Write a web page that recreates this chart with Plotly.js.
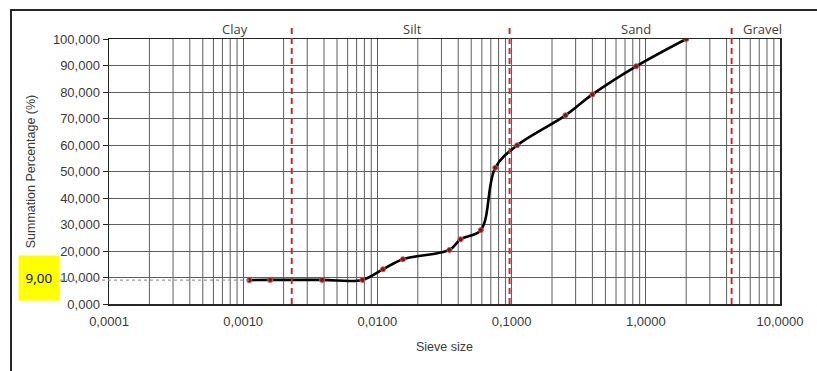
<!DOCTYPE html>
<html>
<head>
<meta charset="utf-8">
<script src="https://cdn.plot.ly/plotly-3.0.1.min.js"></script>
<style>
  html, body { margin: 0; padding: 0; background: #fff; overflow: hidden; }
  #frame { position: absolute; left: 10px; top: 9px; width: 900px; height: 500px;
           border-left: 2px solid #262626; border-top: 2px solid #262626; background: #fff; }
  #chart { position: absolute; left: 0; top: 0; width: 817px; height: 371px; }
</style>
</head>
<body>
<div id="frame"></div>
<div id="chart"></div>
<script>
// Grain size distribution (sieve + hydrometer)
const sieveSize = [0.00111, 0.00159, 0.00387, 0.00773, 0.0110, 0.0155, 0.0344, 0.0416,
                   0.059, 0.0755, 0.110, 0.252, 0.40, 0.847, 2.00];
const passing   = [9.0, 9.1, 9.1, 9.1, 13.1, 16.9, 20.4, 24.4,
                   27.9, 51.4, 59.9, 71.2, 79.1, 89.7, 100.0];

const xTickVals = [0.0001, 0.001, 0.01, 0.1, 1, 10];
const xTickText = ['0,0001', '0,0010', '0,0100', '0,1000', '1,0000', '10,0000'];
const yTickVals = [0, 10, 20, 30, 40, 50, 60, 70, 80, 90, 100];
const yTickText = ['0,000', '10,000', '20,000', '30,000', '40,000', '50,000',
                   '60,000', '70,000', '80,000', '90,000', '100,000'];

// Soil class boundaries (mm) and class names
const zoneBounds = [0.0023, 0.0966, 4.36];
const zoneNames  = ['Clay', 'Silt', 'Sand', 'Gravel'];
const zoneLabelX = [0.1885, 0.453, 0.786, 0.974];   // paper x of each class name

// Highlighted passing level
const markLevel = 9.0;

const logMin = -4, logMax = 1;
const gridColor = '#5e5e5e';
const tickFont = { family: 'Liberation Sans, Arial, sans-serif', size: 13, color: '#3a3a3a' };
const labelFont = { family: 'Open Sans, sans-serif', size: 13, color: '#404040' };

const shapes = [];

// minor log gridlines (2..9 within each decade)
for (let k = logMin; k < logMax; k++) {
  for (let d = 2; d <= 9; d++) {
    shapes.push({
      type: 'line', layer: 'below', xref: 'x', yref: 'paper',
      x0: d * Math.pow(10, k), x1: d * Math.pow(10, k), y0: 0, y1: 1,
      line: { color: gridColor, width: 1 }
    });
  }
}

// class boundaries
zoneBounds.forEach(b => {
  shapes.push({
    type: 'line', layer: 'above', xref: 'x', yref: 'paper',
    x0: b, x1: b, y0: 0, y1: 1.053,
    line: { color: '#d0282e', width: 2, dash: '6px,4px' }
  });
});

// dashed reference from the level box to the first reading
const boxRight = -0.073;
const firstX = (Math.log10(sieveSize[0]) - logMin) / (logMax - logMin);
shapes.push({
  type: 'line', layer: 'above', xref: 'paper', yref: 'y',
  x0: boxRight, x1: firstX, y0: markLevel, y1: markLevel,
  line: { color: '#9a9a9a', width: 1.2, dash: '3px,3px' }
});

const annotations = zoneNames.map((name, i) => ({
  text: name, xref: 'paper', yref: 'paper', x: zoneLabelX[i], y: 1.038,
  xanchor: 'center', yanchor: 'middle', showarrow: false, font: labelFont
}));

annotations.push({
  text: markLevel.toFixed(2).replace('.', ','),
  xref: 'paper', yref: 'y', x: boxRight, y: markLevel, yshift: 2,
  xanchor: 'right', yanchor: 'middle', showarrow: false,
  width: 40, height: 44, borderpad: 0, bgcolor: '#ffff00',
  font: { family: 'Open Sans, sans-serif', size: 13.5, color: '#000' }
});

const trace = {
  x: sieveSize, y: passing, type: 'scatter', mode: 'lines+markers',
  line: { color: '#000', width: 2.6, shape: 'spline', smoothing: 1 },
  marker: { size: 5, color: '#6e1a1a', line: { color: '#e04848', width: 1 } },
  hoverinfo: 'x+y'
};

const layout = {
  width: 817, height: 371,
  margin: { l: 109, r: 37, t: 39, b: 67 },
  paper_bgcolor: 'rgba(0,0,0,0)', plot_bgcolor: '#fff',
  showlegend: false,
  xaxis: {
    type: 'log', range: [logMin, logMax],
    tickvals: xTickVals, ticktext: xTickText, tickfont: tickFont,
    showgrid: true, gridcolor: gridColor, gridwidth: 1,
    showline: true, linecolor: '#262626', linewidth: 1.5, mirror: true,
    ticks: '', ticklabelstandoff: 5, zeroline: false,
    title: { text: 'Sieve size', standoff: 14,
             font: { family: 'Liberation Sans, Arial, sans-serif', size: 12.5, color: '#3a3a3a' } }
  },
  yaxis: {
    range: [0, 100],
    tickvals: yTickVals, ticktext: yTickText, tickfont: tickFont,
    showgrid: true, gridcolor: gridColor, gridwidth: 1,
    showline: true, linecolor: '#262626', linewidth: 1.5, mirror: true,
    ticks: 'outside', ticklen: 5, tickcolor: '#262626', zeroline: false,
    title: { text: 'Summation Percentage (%)', standoff: 14,
             font: { family: 'Liberation Sans, Arial, sans-serif', size: 12.5, color: '#3a3a3a' } }
  },
  shapes: shapes,
  annotations: annotations
};

Plotly.newPlot('chart', [trace], layout, { displayModeBar: false, staticPlot: true });
</script>
</body>
</html>
